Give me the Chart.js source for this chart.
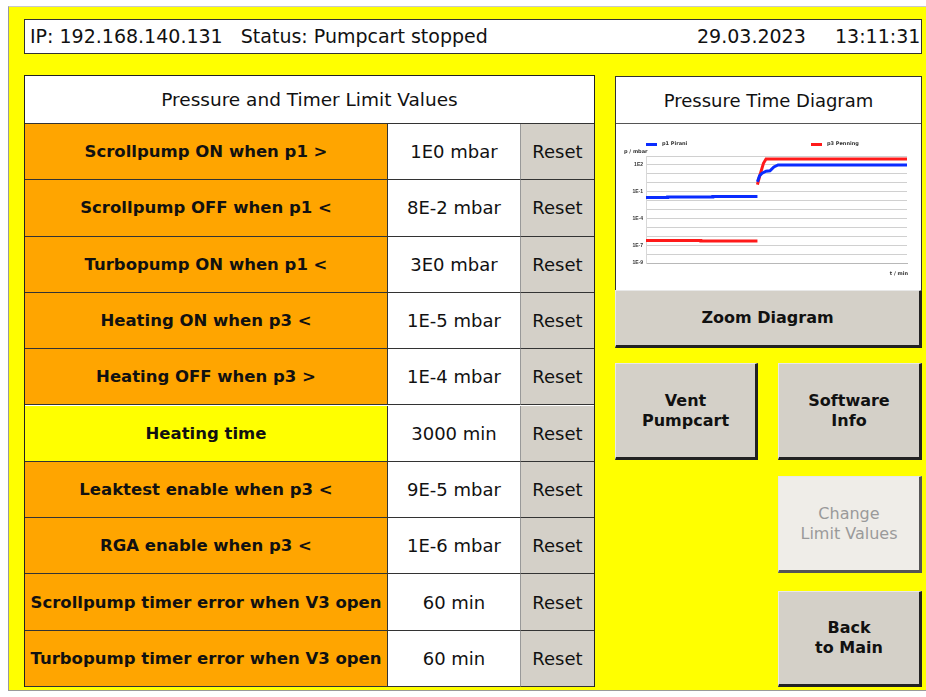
<!DOCTYPE html>
<html>
<head>
<meta charset="utf-8">
<script src="https://cdn.jsdelivr.net/npm/chart.js@4.4.0/dist/chart.umd.min.js"></script>
<style>
  body { margin:0; background:#fff; width:926px; height:697px; overflow:hidden; font-family:"DejaVu Sans",sans-serif; color:#111; }
  .abs { position:absolute; box-sizing:border-box; white-space:nowrap; }
  #frame { left:8px; top:6px; width:918px; height:685px; background:#ffff00; border-left:1px solid #9a9a9a; border-top:1px solid #c8c8c8; border-bottom:1px solid #9a9a9a; }
  #header { left:24px; top:19px; width:898px; height:35px; background:#fff; border:1px solid #333; font-size:19px; line-height:33px; }
  .cell { display:flex; align-items:center; justify-content:center; text-align:center; }
  .lbl { font-weight:bold; font-size:16.5px; border-bottom:1px solid #333; border-right:1px solid #333; }
  .val { background:#fff; font-size:18px; border-bottom:1px solid #333; }
  .rst { background:#d4d0c8; font-size:18px; border-bottom:1px solid #333; border-left:1px solid #999; }
  .btn { background:#d4d0c8; border-top:1px solid #e8e8e8; border-left:1px solid #e8e8e8; border-right:3px solid #222; border-bottom:3px solid #222; font-weight:bold; font-size:16px; line-height:20px; }
</style>
</head>
<body>
<div id="frame" class="abs"></div>
<div id="header" class="abs">
  <span class="abs" style="left:5px;top:0">IP: 192.168.140.131&nbsp;&nbsp; Status: Pumpcart stopped</span>
  <span class="abs" style="left:672px;top:0">29.03.2023</span>
  <span class="abs" style="left:810px;top:0">13:11:31</span>
</div>
<div id="table" class="abs" style="left:24px;top:75px;width:571px;height:612px;border:1px solid #222;background:#fff"></div>
<div id="chartbox" class="abs" style="left:615px;top:76px;width:307px;height:215px;background:#fff;border:1px solid #333">
  <div class="abs cell" style="left:0;top:0;width:305px;height:47px;border-bottom:1px solid #555;font-size:18px">Pressure Time Diagram</div>
  <div class="abs" style="left:0;top:47px;width:305px;height:166px">
    <canvas id="chart" width="305" height="166"></canvas>
  </div>
</div>
<div class="abs btn cell" style="left:615px;top:290px;width:307px;height:58px">Zoom Diagram</div>
<div class="abs btn cell" style="left:615px;top:363px;width:143px;height:97px">Vent<br>Pumpcart</div>
<div class="abs btn cell" style="left:778px;top:363px;width:144px;height:97px">Software<br>Info</div>
<div class="abs btn cell" style="left:778px;top:476px;width:144px;height:97px;background:#efede8;color:#9a9a9a;font-weight:normal;border-right-color:#555;border-bottom-color:#555">Change<br>Limit Values</div>
<div class="abs btn cell" style="left:778px;top:591px;width:144px;height:96px">Back<br>to Main</div>

<script>
// table contents
const rowLabels = ['Scrollpump ON when p1 >', 'Scrollpump OFF when p1 <', 'Turbopump ON when p1 <', 'Heating ON when p3 <',
  'Heating OFF when p3 >', 'Heating time', 'Leaktest enable when p3 <', 'RGA enable when p3 <',
  'Scrollpump timer error when V3 open', 'Turbopump timer error when V3 open'];
const rowValues = ['1E0 mbar', '8E-2 mbar', '3E0 mbar', '1E-5 mbar', '1E-4 mbar', '3000 min', '9E-5 mbar', '1E-6 mbar', '60 min', '60 min'];
const rowIsTime = [false, false, false, false, false, true, false, false, false, false];

// chart data (time in min, pressure in mbar)
const timeP1 = [0, 8.3, 8.3, 25.6, 25.6, 42.7, null, 42.7, 43.5, 44.5, 46, 47.5, 49, 50.6, 100];
const pressureP1 = [2.2e-2, 2.2e-2, 2.5e-2, 2.5e-2, 2.9e-2, 2.9e-2, null, 1.3, 6, 12, 20, 22, 60, 100, 100];
const timeP3 = [0, 21, 21, 42.7, null, 42.7, 43.5, 45, 46, 100];
const pressureP3 = [3.3e-7, 3.3e-7, 2.9e-7, 2.9e-7, null, 0.6, 5, 150, 460, 460];
const yDecades = [3, 2, 1, 0, -1, -2, -3, -4, -5, -6, -7, -8, -9];
const yLabelled = [2, -1, -4, -7, -9];

(function buildTable(){
  const t = document.getElementById('table');
  const head = document.createElement('div');
  head.className = 'abs cell';
  head.style.cssText = 'left:0;top:0;width:569px;height:48px;border-bottom:1px solid #333;font-size:18.5px';
  head.textContent = 'Pressure and Timer Limit Values';
  t.appendChild(head);
  const rowH = 56.3;
  rowLabels.forEach((lab, i) => {
    const top = 48 + i * rowH;
    const l = document.createElement('div');
    l.className = 'abs cell lbl';
    l.style.cssText = `left:0;top:${top}px;width:363px;height:${rowH}px;background:${rowIsTime[i] ? '#ffff00' : '#ffa500'}`;
    l.textContent = lab;
    const v = document.createElement('div');
    v.className = 'abs cell val';
    v.style.cssText = `left:363px;top:${top}px;width:132px;height:${rowH}px`;
    v.textContent = rowValues[i];
    const r = document.createElement('div');
    r.className = 'abs cell rst';
    r.style.cssText = `left:495px;top:${top}px;width:74px;height:${rowH}px`;
    r.textContent = 'Reset';
    t.appendChild(l); t.appendChild(v); t.appendChild(r);
  });
})();

function toPoints(xs, ys){
  return xs.map((x, i) => (x === null ? {x: null, y: null} : {x: x, y: ys[i]}));
}

// tiny legend and axis titles, drawn like the panel does
const smallLegend = {
  id: 'smallLegend',
  afterDraw(chart){
    const ctx = chart.ctx;
    const area = chart.chartArea;
    ctx.save();
    ctx.font = 'bold 5px "DejaVu Sans"';
    ctx.textBaseline = 'middle';
    const spots = [area.left, area.left + 165];
    chart.data.datasets.forEach((ds, i) => {
      const x = spots[i];
      ctx.fillStyle = ds.borderColor;
      ctx.fillRect(x, 19, 11, 3);
      ctx.fillStyle = '#333';
      ctx.fillText(ds.label, x + 16, 20);
    });
    ctx.fillText('p / mbar', 8, 28);
    ctx.textAlign = 'right';
    ctx.fillText('t / min', area.right + 1, 150);
    ctx.restore();
  }
};

new Chart(document.getElementById('chart').getContext('2d'), {
  type: 'line',
  data: {
    datasets: [
      { label: 'p1 Pirani', data: toPoints(timeP1, pressureP1), borderColor: '#0a2cff', borderWidth: 3, pointRadius: 0, spanGaps: false, tension: 0 },
      { label: 'p3 Penning', data: toPoints(timeP3, pressureP3), borderColor: '#ff1a1a', borderWidth: 3, pointRadius: 0, spanGaps: false, tension: 0 }
    ]
  },
  options: {
    responsive: false,
    animation: false,
    events: [],
    layout: { padding: { top: 32, right: 14, left: 0, bottom: 0 } },
    plugins: { legend: { display: false }, tooltip: { enabled: false } },
    scales: {
      x: {
        type: 'linear', min: 0, max: 100,
        ticks: { display: false },
        grid: { display: false },
        border: { display: true, color: '#b8b8b8' },
        afterFit(s){ s.height = 27; }
      },
      y: {
        type: 'logarithmic', min: 1e-9, max: 1e3,
        afterBuildTicks(s){ s.ticks = yDecades.map(e => ({ value: Math.pow(10, e) })); },
        afterFit(s){ s.width = 30; },
        ticks: {
          autoSkip: false, padding: 3, color: '#333', font: { size: 5, weight: 'bold' },
          callback(v){ const e = Math.round(Math.log10(v)); return yLabelled.includes(e) ? '1E' + e : ''; }
        },
        grid: { color: '#d0d0d0', lineWidth: 1, drawTicks: false },
        border: { display: true, color: '#d8d8d8' }
      }
    }
  },
  plugins: [smallLegend]
});
</script>
</body>
</html>
